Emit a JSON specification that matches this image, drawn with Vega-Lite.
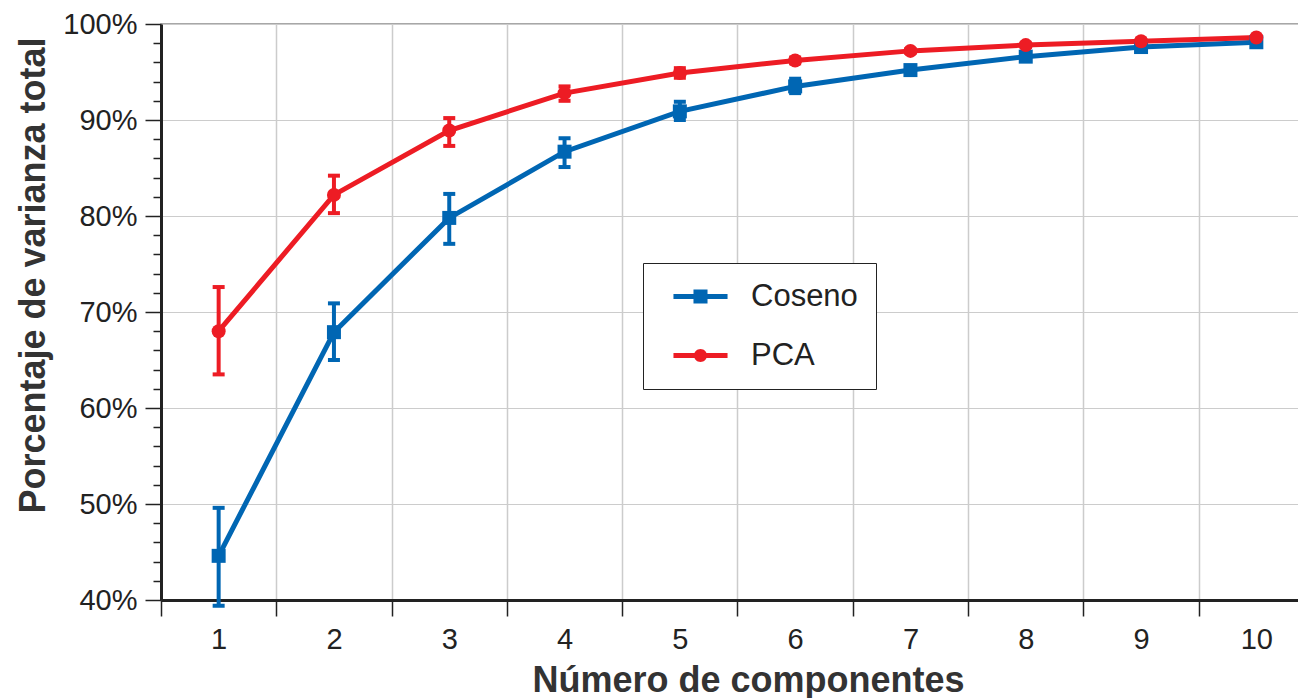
{
  "$schema": "https://vega.github.io/schema/vega-lite/v6.json",
  "width": 1138,
  "height": 576,
  "autosize": {"type": "none"},
  "padding": {"left": 161, "top": 24, "right": 0, "bottom": 98},
  "background": "white",
  "config": {
    "font": "Liberation Sans",
    "view": {"stroke": "#8a8a8a", "strokeWidth": 1.5},
    "axis": {"labelFont": "Liberation Sans", "titleFont": "Liberation Sans"}
  },
  "data": {
    "values": [
      {"n": 1, "serie": "Coseno", "v": 44.6, "lo": 39.4, "hi": 49.6},
      {"n": 2, "serie": "Coseno", "v": 67.9, "lo": 65.0, "hi": 70.9},
      {"n": 3, "serie": "Coseno", "v": 79.8, "lo": 77.1, "hi": 82.3},
      {"n": 4, "serie": "Coseno", "v": 86.7, "lo": 85.1, "hi": 88.1},
      {"n": 5, "serie": "Coseno", "v": 90.9, "lo": 90.0, "hi": 91.9},
      {"n": 6, "serie": "Coseno", "v": 93.5, "lo": 92.8, "hi": 94.3},
      {"n": 7, "serie": "Coseno", "v": 95.2, "lo": 94.8, "hi": 95.6},
      {"n": 8, "serie": "Coseno", "v": 96.6, "lo": 96.3, "hi": 96.9},
      {"n": 9, "serie": "Coseno", "v": 97.6, "lo": 97.4, "hi": 97.8},
      {"n": 10, "serie": "Coseno", "v": 98.1, "lo": 97.9, "hi": 98.3},
      {"n": 1, "serie": "PCA", "v": 68.0, "lo": 63.5, "hi": 72.6},
      {"n": 2, "serie": "PCA", "v": 82.2, "lo": 80.3, "hi": 84.2},
      {"n": 3, "serie": "PCA", "v": 88.9, "lo": 87.3, "hi": 90.2},
      {"n": 4, "serie": "PCA", "v": 92.8, "lo": 92.0, "hi": 93.5},
      {"n": 5, "serie": "PCA", "v": 94.9, "lo": 94.4, "hi": 95.4},
      {"n": 6, "serie": "PCA", "v": 96.2, "lo": 95.9, "hi": 96.5},
      {"n": 7, "serie": "PCA", "v": 97.2, "lo": 97.0, "hi": 97.4},
      {"n": 8, "serie": "PCA", "v": 97.8, "lo": 97.6, "hi": 98.0},
      {"n": 9, "serie": "PCA", "v": 98.2, "lo": 98.1, "hi": 98.4},
      {"n": 10, "serie": "PCA", "v": 98.6, "lo": 98.5, "hi": 98.7}
    ]
  },
  "encoding": {
    "x": {
      "field": "n",
      "type": "quantitative",
      "scale": {"domain": [0.5, 10.37], "nice": false, "zero": false},
      "axis": {
        "values": [0.5, 1, 1.5, 2, 2.5, 3, 3.5, 4, 4.5, 5, 5.5, 6, 6.5, 7, 7.5, 8, 8.5, 9, 9.5, 10],
        "labelExpr": "datum.value % 1 === 0 ? '' + datum.value : ''",
        "labelOverlap": false,
        "labelFlush": false,
        "labelFontSize": 29,
        "labelColor": "#222222",
        "labelPadding": 9,
        "tickSize": 16,
        "tickWidth": 1.5,
        "tickColor": "#222222",
        "tickOpacity": {"condition": {"test": "datum.value % 1 === 0", "value": 0}, "value": 1},
        "grid": true,
        "gridColor": "#cccccc",
        "gridWidth": 1.5,
        "gridOpacity": {"condition": {"test": "datum.value % 1 === 0", "value": 0}, "value": 1},
        "domainColor": "#222222",
        "domainWidth": 3,
        "title": "Número de componentes",
        "titleFontSize": 36,
        "titleFontWeight": "bold",
        "titleColor": "#333333",
        "titleX": 587,
        "titleY": 91,
        "titleBaseline": "alphabetic",
        "titleAlign": "center"
      }
    },
    "y": {
      "field": "v",
      "type": "quantitative",
      "scale": {"domain": [40, 100], "nice": false, "zero": false},
      "axis": {
        "values": [40, 42, 44, 46, 48, 50, 52, 54, 56, 58, 60, 62, 64, 66, 68, 70, 72, 74, 76, 78, 80, 82, 84, 86, 88, 90, 92, 94, 96, 98, 100],
        "labelExpr": "datum.value % 10 === 0 ? datum.value + '%' : ''",
        "labelOverlap": false,
        "labelFlush": false,
        "labelFontSize": 29,
        "labelColor": "#222222",
        "labelPadding": 8,
        "tickSize": {"condition": {"test": "datum.value % 10 === 0", "value": 16}, "value": 8},
        "tickWidth": 1.5,
        "tickColor": "#222222",
        "grid": true,
        "gridColor": "#cccccc",
        "gridWidth": 1.2,
        "gridOpacity": {"condition": {"test": "datum.value % 10 === 0", "value": 1}, "value": 0},
        "domainColor": "#222222",
        "domainWidth": 3,
        "title": "Porcentaje de varianza total",
        "titleFontSize": 36,
        "titleFontWeight": "bold",
        "titleColor": "#333333",
        "titleX": -117,
        "titleY": 251,
        "titleAngle": -90,
        "titleBaseline": "alphabetic",
        "titleAlign": "center"
      }
    }
  },
  "resolve": {"scale": {"color": "independent", "shape": "independent"}},
  "layer": [
    {
      "mark": {"type": "rule", "strokeWidth": 4, "opacity": 1},
      "encoding": {
        "y": {"field": "lo", "type": "quantitative"},
        "y2": {"field": "hi"},
        "color": {"field": "serie", "type": "nominal", "scale": {"domain": ["Coseno", "PCA"], "range": ["#0066B3", "#ED1C24"]}, "legend": null}
      }
    },
    {
      "mark": {"type": "tick", "orient": "horizontal", "size": 12, "thickness": 4, "opacity": 1},
      "encoding": {
        "y": {"field": "lo", "type": "quantitative"},
        "color": {"field": "serie", "type": "nominal", "scale": {"domain": ["Coseno", "PCA"], "range": ["#0066B3", "#ED1C24"]}, "legend": null}
      }
    },
    {
      "mark": {"type": "tick", "orient": "horizontal", "size": 12, "thickness": 4, "opacity": 1},
      "encoding": {
        "y": {"field": "hi", "type": "quantitative"},
        "color": {"field": "serie", "type": "nominal", "scale": {"domain": ["Coseno", "PCA"], "range": ["#0066B3", "#ED1C24"]}, "legend": null}
      }
    },
    {
      "mark": {"type": "line", "strokeWidth": 5},
      "encoding": {
        "color": {"field": "serie", "type": "nominal", "scale": {"domain": ["Coseno", "PCA"], "range": ["#0066B3", "#ED1C24"]}, "legend": null}
      }
    },
    {
      "mark": {"type": "point", "filled": true, "opacity": 1, "size": 196},
      "encoding": {
        "color": {"field": "serie", "type": "nominal", "scale": {"domain": ["Coseno", "PCA"], "range": ["#0066B3", "#ED1C24"]}, "legend": null},
        "shape": {"field": "serie", "type": "nominal", "scale": {"domain": ["Coseno", "PCA"], "range": ["square", "circle"]}, "legend": null}
      }
    },
    {
      "mark": {"type": "point", "filled": true, "opacity": 0, "size": 10},
      "encoding": {
        "color": {
          "field": "serie",
          "type": "nominal",
          "scale": {"domain": ["Coseno", "PCA"], "range": ["#0066B3", "#ED1C24"]},
          "legend": {
            "title": null,
            "orient": "none",
            "legendX": 482,
            "legendY": 239,
            "padding": 18,
            "strokeColor": "#222222",
            "fillColor": "white",
            "symbolSize": 676,
            "symbolOpacity": 1,
            "symbolStrokeWidth": 0,
            "symbolOffset": 24,
            "labelOffset": 35,
            "labelFontSize": 31,
            "labelColor": "#222222",
            "labelFont": "Liberation Sans",
            "rowPadding": 27
          }
        },
        "shape": {
          "field": "serie",
          "type": "nominal",
          "scale": {"domain": ["Coseno", "PCA"], "range": ["M-2.08,-0.19H2.08V0.19H-2.08Z M-0.54,-0.54H0.54V0.54H-0.54Z", "M-2.08,-0.19H2.08V0.19H-2.08Z M-0.5,0A0.5,0.5 0 1,1 0.5,0A0.5,0.5 0 1,1 -0.5,0Z"]},
          "legend": {
            "title": null,
            "orient": "none",
            "legendX": 482,
            "legendY": 239,
            "padding": 18,
            "strokeColor": "#222222",
            "fillColor": "white",
            "symbolSize": 676,
            "symbolOpacity": 1,
            "symbolStrokeWidth": 0,
            "symbolOffset": 24,
            "labelOffset": 35,
            "labelFontSize": 31,
            "labelColor": "#222222",
            "labelFont": "Liberation Sans",
            "rowPadding": 27
          }
        }
      }
    }
  ]
}
